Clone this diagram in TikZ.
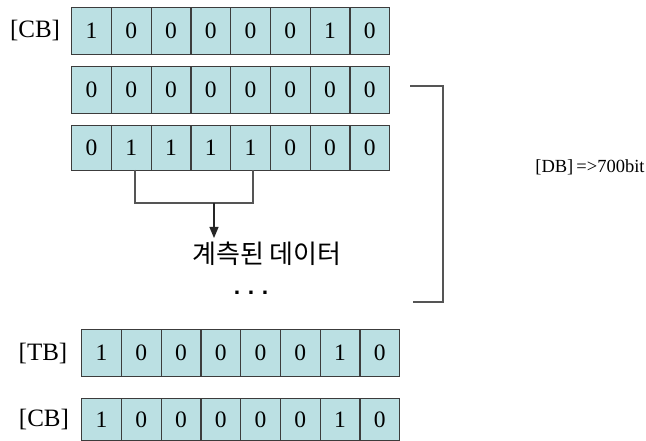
\documentclass[tikz,border=0pt]{standalone}
\usepackage{fontspec}
\setmainfont{Liberation Serif}
\newfontfamily\kofont{Noto Sans CJK KR}
\newfontfamily\dotfont{Liberation Sans}
\usetikzlibrary{arrows.meta}
\definecolor{cellfill}{RGB}{187,224,227}
\definecolor{cellline}{RGB}{60,60,60}
\definecolor{linkgray}{RGB}{85,85,85}
\newcommand\bitrow[5]{% #1 name, #2 left x, #3 top y, #4 height, #5 bits
  \foreach \b [count=\i from 1] in {#5} {
    \node[bitcell, minimum height=#4pt] (#1-\i) at ({#2+(\i-1)*39.75},#3) {\b};
  }%
}
\begin{document}
\begin{tikzpicture}[x=1pt,y=-1pt,
  bitcell/.style={draw=cellline, line width=1.4pt, fill=cellfill,
    minimum width=39.75pt, inner sep=0pt, anchor=north west,
    font=\fontsize{23.5}{23.5}\selectfont},
  tag/.style={inner sep=0pt, font=\fontsize{25}{25}\selectfont},
  link/.style={draw=linkgray, line width=1.2pt}]
\useasboundingbox (0,0) rectangle (646,441);
\fill[white] (0,0) rectangle (646,441);

% bit registers
\bitrow{cb}{71}{7}{47}{1,0,0,0,0,0,1,0}
\bitrow{da}{71}{66}{47}{0,0,0,0,0,0,0,0}
\bitrow{db}{71}{125}{45}{0,1,1,1,1,0,0,0}
\bitrow{tb}{81}{329}{47}{1,0,0,0,0,0,1,0}
\bitrow{ce}{81}{398}{42}{1,0,0,0,0,0,1,0}

% register labels
\node[tag] (lcb) at (35,31) {[CB]};
\node[tag] (ltb) at (43,353) {[TB]};
\node[tag] (lce) at (44,419) {[CB]};
\node[inner sep=0pt, font=\fontsize{18.5}{18.5}\selectfont] (ldb) at (590,167) {[DB]\,=>700bit};

% measured-data bracket and arrow
\coordinate (mL) at (135,170);
\coordinate (mR) at (253,170);
\coordinate (mLb) at (135,203);
\coordinate (mRb) at (253,203);
\coordinate (mA) at (214,203);
\node[inner sep=0pt, font=\kofont\fontsize{26}{26}\selectfont] (meas) at (267,254) {계측된 데이터};
\coordinate (mT) at (214,238);
\draw[link] (mL) -- (mLb) -- (mRb) -- (mR);
\draw[link, draw=black!85, -{Triangle[width=9pt,length=11pt]}] (mA) -- (mT);

\node[inner sep=0pt, font=\dotfont\bfseries\fontsize{23}{23}\selectfont] (dots) at (251,293) {.\,\,.\,\,.};

% data block bracket
\coordinate (bT) at (410,86);
\coordinate (bTR) at (443,86);
\coordinate (bBR) at (443,302);
\coordinate (bB) at (413,302);
\draw[link] (bT) -- (bTR) -- (bBR) -- (bB);
\end{tikzpicture}
\end{document}
